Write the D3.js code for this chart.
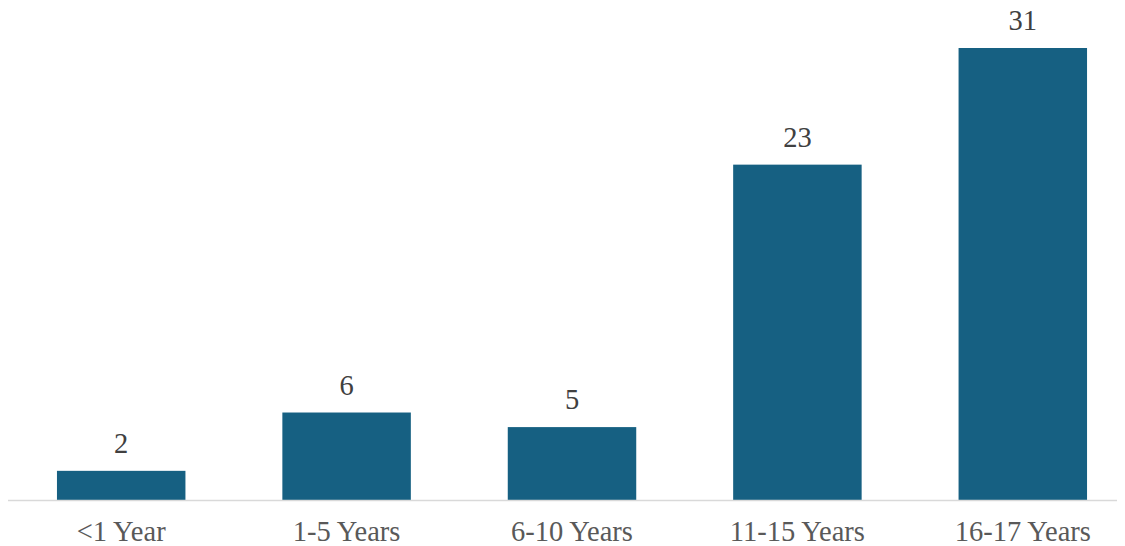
<!DOCTYPE html>
<html>
<head>
<meta charset="utf-8">
<script src="https://cdn.jsdelivr.net/npm/d3@7"></script>
<style>
  html, body { margin: 0; padding: 0; background: #fff; }
  #chart { width: 1125px; height: 546px; }
  text { font-family: "Liberation Serif", "Times New Roman", serif; }
</style>
</head>
<body>
<div id="chart"></div>
<script>
// data
const categories = ['<1 Year', '1-5 Years', '6-10 Years', '11-15 Years', '16-17 Years'];
const values = [2, 6, 5, 23, 31];

const width = 1125, height = 546;
const baseline_y = 500;
const top_y = 48;

const svg = d3.select('#chart')
  .append('svg')
    .attr('width', width)
    .attr('height', height);

// scales
const xScale = d3.scaleBand()
  .domain(categories)
  .range([8.5, 1135.5])
  .paddingInner(0.43)
  .paddingOuter(0.215);

const yScale = d3.scaleLinear()
  .domain([0, 31])
  .range([baseline_y, top_y]);

// bars
svg.selectAll('rect.bar')
  .data(values)
  .enter().append('rect')
    .attr('class', 'bar')
    .attr('x', (d, i) => xScale(categories[i]))
    .attr('width', xScale.bandwidth())
    .attr('y', d => yScale(d))
    .attr('height', d => yScale(0) - yScale(d))
    .attr('fill', '#166082');

// baseline
svg.append('line')
  .attr('x1', 8).attr('x2', 1117)
  .attr('y1', baseline_y + 0.5).attr('y2', baseline_y + 0.5)
  .attr('stroke', '#d9d9d9')
  .attr('stroke-width', 1.5);

// value labels
svg.selectAll('text.value')
  .data(values)
  .enter().append('text')
    .attr('class', 'value')
    .attr('x', (d, i) => xScale(categories[i]) + xScale.bandwidth() / 2)
    .attr('y', d => yScale(d) - 18)
    .attr('text-anchor', 'middle')
    .attr('font-size', 28.5)
    .attr('fill', '#404040')
    .text(d => d);

// category labels
svg.selectAll('text.cat')
  .data(categories)
  .enter().append('text')
    .attr('class', 'cat')
    .attr('x', d => xScale(d) + xScale.bandwidth() / 2)
    .attr('y', 541)
    .attr('text-anchor', 'middle')
    .attr('font-size', 28.5)
    .attr('fill', '#595959')
    .text(d => d);
</script>
</body>
</html>
